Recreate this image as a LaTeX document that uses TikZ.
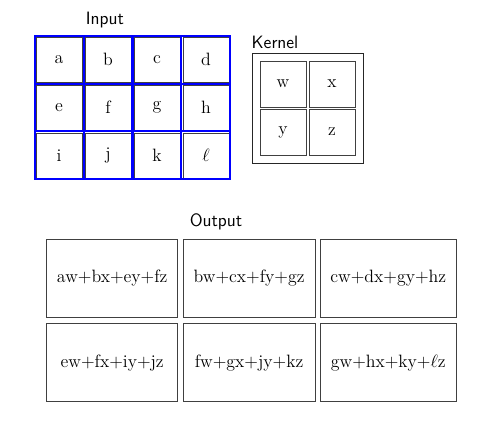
\documentclass[tikz,border=0pt]{standalone}
\usetikzlibrary{positioning}
\begin{document}
\begin{tikzpicture}[x=0.6711pt,y=-0.6711pt,
  cell/.style={draw=black!75,line width=0.6pt,inner sep=0pt,minimum width=30.9pt,minimum height=30.2pt,font=\large},
  kcell/.style={draw=black!75,line width=0.6pt,inner sep=0pt,minimum width=30.9pt,minimum height=30.9pt,font=\large},
  obox/.style={draw=black!75,line width=0.6pt,inner sep=0pt,minimum height=52.3pt,font=\large},
  win/.style={draw=blue,line width=1.3pt},
  lbl/.style={font=\large\sffamily,inner sep=0pt,anchor=base}]
\useasboundingbox (0,0) rectangle (481,427);
% labels
\node[lbl] (lin) at (105,24) {Input};
\node[lbl] (lker) at (275,48) {Kernel};
\node[lbl] (lout) at (216,226) {Output};
% input cells
\node[cell] (a) at (59,59.5) {a};
\node[cell] (b) at (108,59.5) {b};
\node[cell] (c) at (157,59.5) {c};
\node[cell] (d) at (206,59.5) {d};
\node[cell] (e) at (59,107.5) {e};
\node[cell] (f) at (108,107.5) {f};
\node[cell] (g) at (157,107.5) {g};
\node[cell] (h) at (206,107.5) {h};
\node[cell] (i) at (59,155.5) {i};
\node[cell] (j) at (108,155.5) {j};
\node[cell] (k) at (157,155.5) {k};
\node[cell] (l) at (206,155.5) {$\ell$};
% blue windows
\foreach \p/\q in {a/f,b/g,c/h,e/j,f/k,g/l}
  \draw[win] ([shift={(-0.6,-0.6)}]\p.north west) rectangle ([shift={(0.6,0.6)}]\q.south east);
% kernel
\node[draw=black!85,line width=0.6pt,minimum width=74.5pt,minimum height=73.8pt,inner sep=0pt] (kframe) at (307.5,108) {};
\node[kcell] (w) at (283,84) {w};
\node[kcell] (x) at (332,84) {x};
\node[kcell] (y) at (283,132) {y};
\node[kcell] (z) at (332,132) {z};
% output
\node[obox,minimum width=87.6pt] (o1) at (112.2,278.3) {aw$+$bx$+$ey$+$fz};
\node[obox,minimum width=88.4pt] (o2) at (249.1,278.3) {bw$+$cx$+$fy$+$gz};
\node[obox,minimum width=91.7pt] (o3) at (388.3,278.3) {cw$+$dx$+$gy$+$hz};
\node[obox,minimum width=87.6pt] (o4) at (112.2,362.8) {ew$+$fx$+$iy$+$jz};
\node[obox,minimum width=88.4pt] (o5) at (249.1,362.8) {fw$+$gx$+$jy$+$kz};
\node[obox,minimum width=91.7pt] (o6) at (388.3,362.8) {gw$+$hx$+$ky$+$$\ell$z};
\end{tikzpicture}
\end{document}
